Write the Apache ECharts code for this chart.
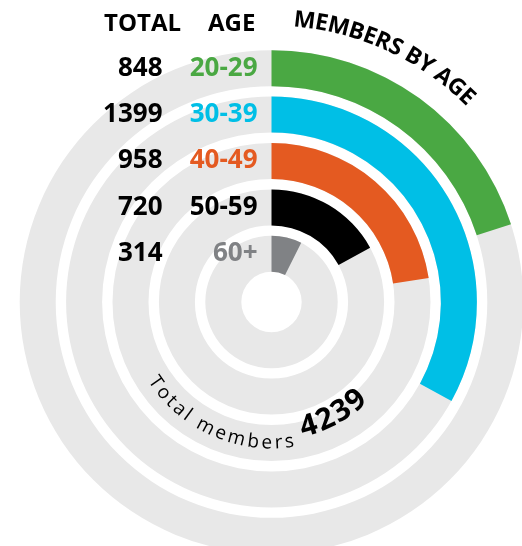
<!DOCTYPE html>
<html>
<head>
<meta charset="utf-8">
<script src="https://cdn.jsdelivr.net/npm/echarts@6/dist/echarts.min.js"></script>
<style>
html, body { margin: 0; padding: 0; background: #fff; }
#main { width: 522px; height: 546px; }
</style>
</head>
<body>
<div id="main"></div>
<script>
// age groups, inner ring -> outer ring
var ageGroups = ['60+', '50-59', '40-49', '30-39', '20-29'];
var memberCounts = [314, 720, 958, 1399, 848];
var ageColors = ['#808285', '#000000', '#e45a21', '#00bfe6', '#4aa843'];
var totalMembers = 4239;

var cx = 271.5, cy = 302;
var fontName = "'Open Sans', 'DejaVu Sans', sans-serif";

// measure text for the curved labels
var measureCtx = document.createElement('canvas').getContext('2d');
function textWidth(ch, font) {
    measureCtx.font = font;
    return measureCtx.measureText(ch).width;
}

function charEl(ch, x, y, rot, font, color) {
    return {
        type: 'text', x: x, y: y, rotation: rot, silent: true, z: 100,
        style: {
            text: ch, font: font, fill: color,
            align: 'center', verticalAlign: 'middle',
            textAlign: 'center', textVerticalAlign: 'middle'
        }
    };
}

// title text on the outside of the circle, reading clockwise
function outerArcText(text, r, startDeg, font, spacing, els) {
    var ang = startDeg * Math.PI / 180;
    for (var i = 0; i < text.length; i++) {
        var w = textWidth(text[i], font) + spacing;
        var mid = ang + w / 2 / r;
        els.push(charEl(text[i], cx + r * Math.sin(mid), cy - r * Math.cos(mid), -mid, font, '#000'));
        ang += w / r;
    }
}

// text at the bottom, tops toward centre, reading left to right
function innerArcText(text, r, startDeg, font, spacing, els) {
    var phi = startDeg * Math.PI / 180;
    for (var i = 0; i < text.length; i++) {
        var w = textWidth(text[i], font) + spacing;
        var mid = phi - w / 2 / r;
        els.push(charEl(text[i], cx + r * Math.cos(mid), cy + r * Math.sin(mid), Math.PI / 2 - mid, font, '#000'));
        phi -= w / r;
    }
    return phi * 180 / Math.PI;
}

var graphics = [];
graphics.push({
    type: 'text', x: 142.5, y: 24.5, silent: true, z: 100,
    style: { text: 'TOTAL', font: 'bold 24px ' + fontName, fill: '#000', align: 'center', verticalAlign: 'middle', textAlign: 'center', textVerticalAlign: 'middle' }
});
graphics.push({
    type: 'text', x: 231.7, y: 24.5, silent: true, z: 100,
    style: { text: 'AGE', font: 'bold 24px ' + fontName, fill: '#000', align: 'center', verticalAlign: 'middle', textAlign: 'center', textVerticalAlign: 'middle' }
});

outerArcText('MEMBERS BY AGE', 283, 4.5, 'bold 23px ' + fontName, 0, graphics);

var endPhi = innerArcText('Total members', 141, 148, '19px ' + fontName, 2.5, graphics);
innerArcText(String(totalMembers), 130, endPhi - 3, 'bold 30px ' + fontName, 1, graphics);

var labelRich = { n: { width: 60, align: 'right', fontSize: 26, fontWeight: 'bold', fontFamily: fontName, color: '#000' } };
ageColors.forEach(function (c, i) {
    labelRich['a' + i] = { width: 95, align: 'right', fontSize: 26, fontWeight: 'bold', fontFamily: fontName, color: c };
});

var chart = echarts.init(document.getElementById('main'));
chart.setOption({
    animation: false,
    polar: {
        center: [cx, cy],
        radius: [25, 257]
    },
    angleAxis: {
        type: 'value',
        min: 0,
        max: totalMembers,
        startAngle: 90,
        clockwise: true,
        show: false
    },
    radiusAxis: {
        type: 'category',
        data: ageGroups,
        z: 10,
        axisLine: { show: false },
        axisTick: { show: false },
        splitLine: { show: false },
        axisLabel: {
            interval: 0,
            hideOverlap: false,
            margin: 14,
            formatter: function (value, index) {
                return '{n|' + memberCounts[index] + '}{a' + index + '|' + value + '}';
            },
            rich: labelRich
        }
    },
    series: [{
        type: 'bar',
        coordinateSystem: 'polar',
        barWidth: 36,
        showBackground: true,
        backgroundStyle: { color: '#e8e8e8' },
        data: memberCounts.map(function (v, i) {
            return { value: v, itemStyle: { color: ageColors[i] } };
        })
    }],
    graphic: graphics
});
</script>
</body>
</html>
